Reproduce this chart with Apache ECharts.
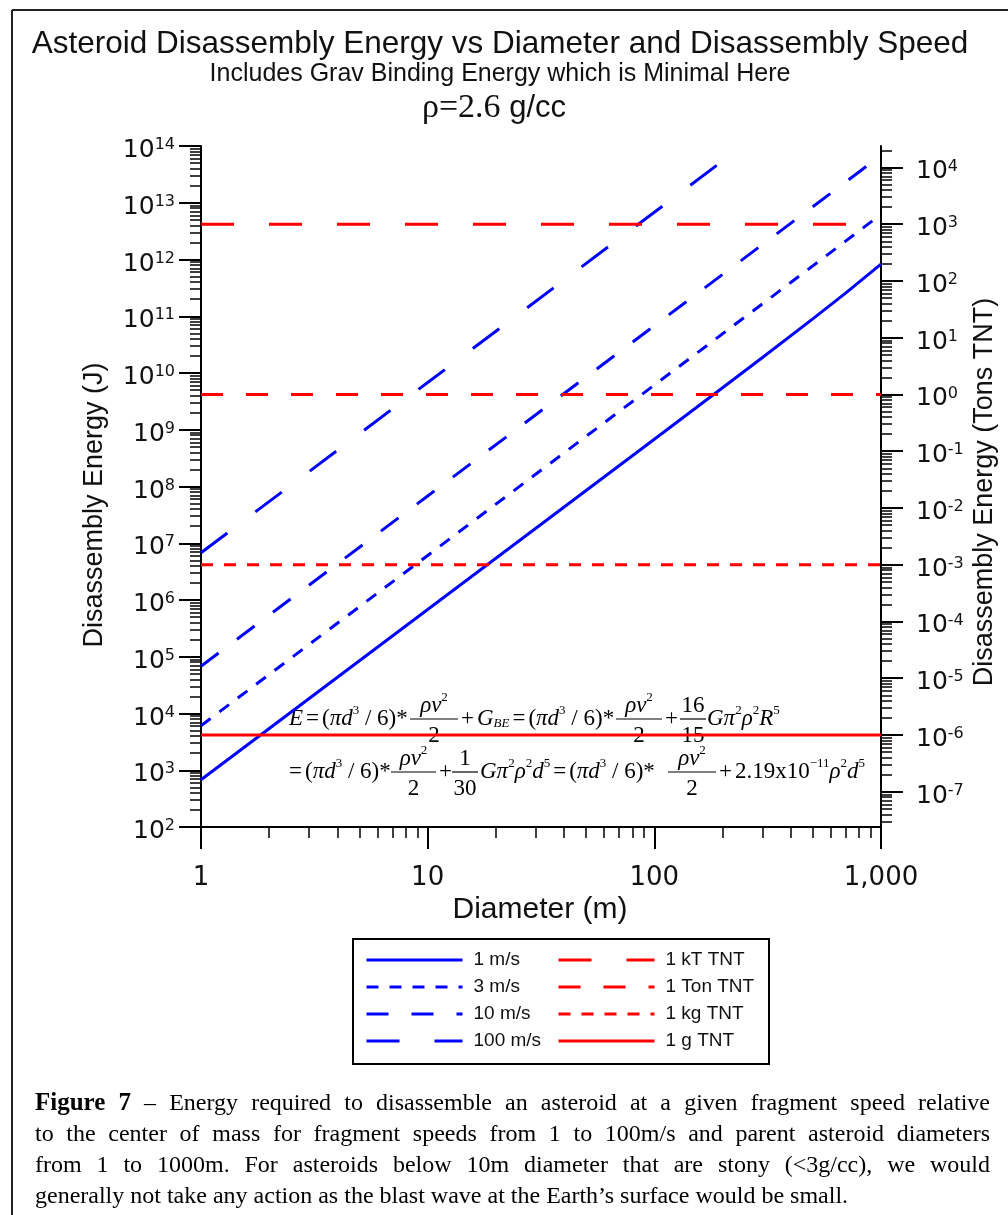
<!DOCTYPE html>
<html><head><meta charset="utf-8">
<script src="https://cdn.jsdelivr.net/npm/echarts@6/dist/echarts.min.js"></script>
<style>html,body{margin:0;padding:0;background:#fff}#c{width:1008px;height:1215px}</style>
</head><body><div id="c"></div>
<script>
// ---------------- data ----------------
const diameters = [1, 10, 100, 200, 300, 500, 700, 1000];
const energy1ms = [680, 6.8e5, 6.82e8, 5.49e9, 1.874e10, 8.97e10, 2.58e11, 8.3e11];
const energy3ms = [6.1e3, 6.1e6, 6.13e9, 4.905e10, 1.658e11, 7.71e11, 2.126e12, 6.27e12];
const energy10ms = [6.8e4, 6.8e7, 6.81e10, 5.445e11, 1.838e12, 8.51e12, 2.335e13, 6.82e13];
const diameters100 = [1, 10, 100, 200];
const energy100ms = [6.8e6, 6.8e9, 6.81e12, 5.45e13];
const tntDiameters = [1, 1000];
const tntLevels = { '1 kT TNT': 4.184e12, '1 Ton TNT': 4.184e9, '1 kg TNT': 4.184e6, '1 g TNT': 4.184e3 };
const JOULES_PER_TON = 4.184e9;
const speedNames = ['1 m/s', '3 m/s', '10 m/s', '100 m/s'];
const tntNames = ['1 kT TNT', '1 Ton TNT', '1 kg TNT', '1 g TNT'];
const xTickValues = [1, 10, 100, 1000];
const xTickLabels = ['1', '10', '100', '1,000'];
const leftExponents = [2, 3, 4, 5, 6, 7, 8, 9, 10, 11, 12, 13, 14];
const rightExponents = [-7, -6, -5, -4, -3, -2, -1, 0, 1, 2, 3, 4];
const minorMultipliers = [2, 3, 4, 5, 6, 7, 8, 9];

// ---------------- helpers ----------------
const SANS = '"Liberation Sans", Arial, sans-serif';
const TICKF = '"DejaVu Sans", "Liberation Sans", sans-serif';
const SERIF = '"Liberation Serif", "Times New Roman", serif';
const INK = '#111';
function zip(xs, ys) { return xs.map((x, i) => [x, ys[i]]); }
function minorTicks(exps, lo, hi) {
  const out = [];
  exps.forEach(e => minorMultipliers.forEach(m => {
    const v = m * Math.pow(10, e);
    if (v >= lo * 0.999999 && v <= hi * 1.000001) out.push(v);
  }));
  return out;
}
const yMin = 1e2, yMax = 1e14;
const yMinT = yMin / JOULES_PER_TON, yMaxT = yMax / JOULES_PER_TON;
const leftMajor = leftExponents.map(e => Math.pow(10, e));
const rightMajor = rightExponents.map(e => Math.pow(10, e));
const leftMinor = minorTicks([2,3,4,5,6,7,8,9,10,11,12,13], yMin, yMax);
const rightMinor = minorTicks([-8,-7,-6,-5,-4,-3,-2,-1,0,1,2,3,4], yMinT, yMaxT);
const xMinor = minorTicks([0, 1, 2], 1, 1000);

const powRich = {
  b: { fontFamily: TICKF, fontSize: 25, lineHeight: 26, verticalAlign: 'bottom', color: INK },
  s: { fontFamily: TICKF, fontSize: 16, lineHeight: 14, verticalAlign: 'top', color: INK }
};
function powLabel(v) { return '{b|10}{s|' + Math.round(Math.log10(v)) + '}'; }

const majorTick = { show: true, length: 22, lineStyle: { color: '#000', width: 2 } };
const minorTick = { show: true, length: 11, lineStyle: { color: '#000', width: 1.5 } };
const axisLineStyle = { show: true, onZero: false, lineStyle: { color: '#000', width: 2 } };

function yAxisDef(pos, min, max, major, minor, labelMargin) {
  return [
    { type: 'log', logBase: 10, position: pos, min, max, axisLine: axisLineStyle,
      axisTick: Object.assign({ customValues: major }, majorTick),
      axisLabel: { customValues: major, formatter: powLabel, rich: powRich, margin: labelMargin, padding: [8, 0, 0, 0] },
      splitLine: { show: false }, minorTick: { show: false } },
    { type: 'log', logBase: 10, position: pos, min, max, axisLine: { show: false },
      axisTick: Object.assign({ customValues: minor }, minorTick),
      axisLabel: { show: false }, splitLine: { show: false } }
  ];
}

const blue = '#0000ff', red = '#ff0000';
const speedStyles = [null, [12, 11], [22, 23], [33, 35]];
const tntStyles = [[33, 35], [22, 23], [12, 11], null];
const speedData = [zip(diameters, energy1ms), zip(diameters, energy3ms), zip(diameters, energy10ms), zip(diameters100, energy100ms)];

const series = [];
speedNames.forEach((n, i) => series.push({
  name: n, type: 'line', xAxisIndex: 0, yAxisIndex: 0, data: speedData[i], symbol: 'none', showSymbol: false,
  lineStyle: { color: blue, width: 3, type: speedStyles[i] || 'solid', cap: 'butt' }, itemStyle: { color: blue },
  silent: true, animation: false, z: 3
}));
tntNames.forEach((n, i) => series.push({
  name: n, type: 'line', xAxisIndex: 0, yAxisIndex: 0,
  data: zip(tntDiameters, tntDiameters.map(() => tntLevels[n])), symbol: 'none', showSymbol: false,
  lineStyle: { color: red, width: 3, type: tntStyles[i] || 'solid', cap: 'butt' }, itemStyle: { color: red },
  silent: true, animation: false, z: 4
}));

// ---------------- graphic texts ----------------
const g = [];
function txt(x, y, text, font, extra) {
  g.push(Object.assign({ type: 'text', silent: true, x, y,
    style: { text, font, fill: INK, textAlign: 'center', textVerticalAlign: 'middle' } }, extra || {}));
}
// frame
g.push({ type: 'line', silent: true, shape: { x1: 12, y1: 10, x2: 1008, y2: 10 }, style: { stroke: '#222', lineWidth: 2 } });
g.push({ type: 'line', silent: true, shape: { x1: 12, y1: 10, x2: 12, y2: 1215 }, style: { stroke: '#222', lineWidth: 2 } });
// titles
txt(500, 44, 'Asteroid Disassembly Energy vs Diameter and Disassembly Speed', '31.5px ' + SANS);
txt(500, 74, 'Includes Grav Binding Energy which is Minimal Here', '25px ' + SANS);
g.push({ type: 'text', silent: true, x: 494, y: 108, style: {
  text: '{s|ρ=2.6}{a| g/cc}', textAlign: 'center', textVerticalAlign: 'middle',
  rich: { s: { fontFamily: SERIF, fontSize: 34, fill: INK }, a: { fontFamily: SANS, fontSize: 31, fill: INK } } } });
// axis names
txt(95, 505, 'Disassembly Energy (J)', '27px ' + SANS, { rotation: Math.PI / 2 });
txt(985, 492, 'Disassembly Energy (Tons TNT)', '27px ' + SANS, { rotation: Math.PI / 2 });
txt(540, 910, 'Diameter (m)', '30px ' + SANS);

// formula
const FS = 23, FSS = 13;
const fr = {
  i: { fontFamily: SERIF, fontStyle: 'italic', fontSize: FS, lineHeight: 26, verticalAlign: 'bottom', fill: '#000' },
  r: { fontFamily: SERIF, fontSize: FS, lineHeight: 26, verticalAlign: 'bottom', fill: '#000' },
  e: { fontFamily: SERIF, fontSize: FS, lineHeight: 26, verticalAlign: 'bottom', fill: '#000', padding: [0, 3, 0, 3] },
  s: { fontFamily: SERIF, fontSize: FSS, lineHeight: 13, verticalAlign: 'top', fill: '#000' },
  b: { fontFamily: SERIF, fontStyle: 'italic', fontSize: FSS, lineHeight: 13, verticalAlign: 'bottom', fill: '#000' }
};
function seg(x, bar, text) {
  g.push({ type: 'text', silent: true, x, y: bar - 2, style: { text, rich: fr, textAlign: 'left', textVerticalAlign: 'middle' } });
}
function frac(x1, x2, bar, num, den) {
  const cx = (x1 + x2) / 2;
  g.push({ type: 'text', silent: true, x: cx, y: bar - 15, style: { text: num, rich: fr, textAlign: 'center', textVerticalAlign: 'middle' } });
  g.push({ type: 'text', silent: true, x: cx, y: bar + 15, style: { text: den, rich: fr, textAlign: 'center', textVerticalAlign: 'middle' } });
  g.push({ type: 'line', silent: true, shape: { x1, y1: bar, x2, y2: bar }, style: { stroke: '#000', lineWidth: 1.2 } });
}
const rv2 = '{i|ρv}{s|2}';
const sixth = '{r|(}{i|πd}{s|3}{r| / 6)*}';
const b1 = 719, b2 = 772;
seg(289, b1, '{i|E}{e|=}' + sixth);
frac(410, 458, b1, rv2, '{r|2}');
seg(458, b1, '{e|+}{i|G}{b|BE}{e|=}' + sixth);
frac(616, 662, b1, rv2, '{r|2}');
seg(662, b1, '{e|+}');
frac(680, 706, b1, '{r|16}', '{r|15}');
seg(707, b1, '{i|Gπ}{s|2}{i|ρ}{s|2}{i|R}{s|5}');

seg(286, b2, '{e|=}' + sixth);
frac(391, 436, b2, rv2, '{r|2}');
seg(436, b2, '{e|+}');
frac(452, 478, b2, '{r|1}', '{r|30}');
seg(480, b2, '{i|Gπ}{s|2}{i|ρ}{s|2}{i|d}{s|5}{e|=}' + sixth);
frac(668, 716, b2, rv2, '{r|2}');
seg(716, b2, '{e|+}{r|2.19x10}{s|−11}{i|ρ}{s|2}{i|d}{s|5}');

// legend box
g.push({ type: 'rect', silent: true, shape: { x: 353, y: 939, width: 416, height: 125 }, style: { fill: 'none', stroke: '#000', lineWidth: 2 } });

// caption (justified)
const captionLines = [
  [['Figure', true], ['7', true], ['–', false], ['Energy required to disassemble an asteroid at a given fragment speed relative', false]],
  [['to the center of mass for fragment speeds from 1 to 100m/s and parent asteroid diameters', false]],
  [['from 1 to 1000m. For asteroids below 10m diameter that are stony (<3g/cc), we would', false]],
  [['generally not take any action as the blast wave at the Earth’s surface would be small.', false]]
];
const capY = [1104, 1135, 1166, 1197];
const capFont = '24px ' + SERIF, capBold = 'bold 25px ' + SERIF;
const ctx = document.createElement('canvas').getContext('2d');
function mw(t, f) { ctx.font = f; return ctx.measureText(t).width; }
captionLines.forEach((parts, li) => {
  const words = [];
  parts.forEach(([t, bold]) => t.split(' ').forEach(w => words.push({ w, f: bold ? capBold : capFont })));
  const widths = words.map(o => mw(o.w, o.f));
  const total = widths.reduce((a, b) => a + b, 0);
  const last = li === captionLines.length - 1;
  const gap = last ? mw(' ', capFont) : (990 - 35 - total) / (words.length - 1);
  let x = 35;
  words.forEach((o, i) => {
    g.push({ type: 'text', silent: true, x, y: capY[li], style: { text: o.w, font: o.f, fill: '#000', textAlign: 'left', textVerticalAlign: 'middle' } });
    x += widths[i] + gap;
  });
});

// ---------------- chart ----------------
const legendCommon = {
  orient: 'vertical', top: 950, padding: 0, itemWidth: 96, itemHeight: 20, itemGap: 7, selectedMode: false,
  itemStyle: { opacity: 0, borderWidth: 0 },
  lineStyle: { width: 3 },
  textStyle: { fontFamily: SANS, fontSize: 19, color: INK, lineHeight: 20, padding: [0, 0, 0, 6] }
};
const chart = echarts.init(document.getElementById('c'), null, { renderer: 'canvas' });
chart.setOption({
  animation: false,
  backgroundColor: '#fff',
  grid: { left: 201, top: 146, width: 680, height: 681, containLabel: false },
  xAxis: [
    { type: 'log', logBase: 10, position: 'bottom', min: 1, max: 1000, axisLine: axisLineStyle,
      axisTick: Object.assign({ customValues: xTickValues }, majorTick),
      axisLabel: { customValues: xTickValues, formatter: v => xTickLabels[xTickValues.findIndex(t => Math.abs(t - v) < 1e-6 * t)] || '',
        fontFamily: TICKF, fontSize: 26, color: INK, margin: 38 },
      splitLine: { show: false } },
    { type: 'log', logBase: 10, position: 'bottom', min: 1, max: 1000, axisLine: { show: false },
      axisTick: Object.assign({ customValues: xMinor }, minorTick), axisLabel: { show: false }, splitLine: { show: false } }
  ],
  yAxis: yAxisDef('left', yMin, yMax, leftMajor, leftMinor, 26).concat(yAxisDef('right', yMinT, yMaxT, rightMajor, rightMinor, 35)),
  legend: [
    Object.assign({ left: 365, data: speedNames }, legendCommon),
    Object.assign({ left: 557, data: tntNames }, legendCommon)
  ],
  series,
  graphic: { elements: g }
});
</script></body></html>
